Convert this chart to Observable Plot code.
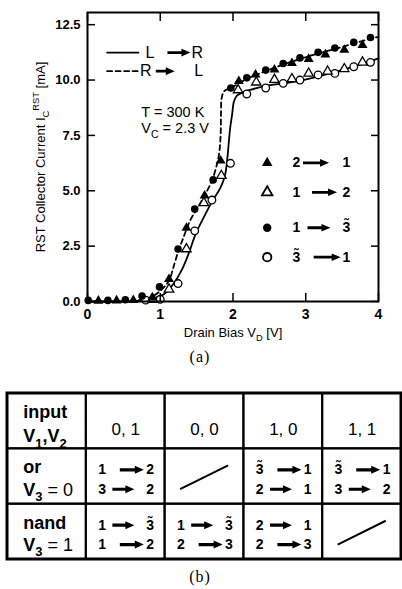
<!DOCTYPE html>
<html><head><meta charset="utf-8">
<script src="https://cdn.jsdelivr.net/npm/d3@7"></script>
<script src="https://cdn.jsdelivr.net/npm/@observablehq/plot@0.6"></script>
<style>
body{margin:0;background:#fff;width:402px;overflow:hidden;}
.cap{font-family:"Liberation Serif","Times New Roman",serif;font-size:16px;letter-spacing:1px;text-align:center;width:400px;color:#000;}
svg{display:block;}
</style></head><body>
<div id="chart"></div>
<div class="cap" style="height:30px;line-height:24px;">(a)</div>
<div id="table"></div>
<div class="cap" style="height:24px;line-height:24px;">(b)</div>
<script>
// ---------- (a) data ----------
const xTicks = [0, 1, 2, 3, 4];
const yTicks = [0, 2.5, 5, 7.5, 10, 12.5];
const xLabel = "Drain Bias V_{D} [V]";
const yLabel = "RST Collector Current I_{C}^{RST} [mA]";
const conditions = ["T = 300 K", "V_{C} = 2.3 V"];
const lineKeys = [["L", "R"], ["R", "L"]];               // solid, dashed
const markerKeys = [["2", "1"], ["1", "2"], ["1", "3\u0303"], ["3\u0303", "1"]];

// measured points: drain bias V_D [V], collector current I_C [mA]
const vdTri21 = [0.15, 0.40, 0.63, 0.89, 1.12, 1.36, 1.61, 1.83, 2.08, 2.31, 2.57, 2.81, 3.04, 3.27, 3.53, 3.78];
const icTri21 = [0.03, 0.04, 0.06, 0.18, 1.01, 3.32, 4.78, 6.36, 9.95, 10.24, 10.47, 10.76, 10.95, 11.15, 11.36, 11.58];
const vdTri12 = [0.90, 1.12, 1.36, 1.60, 1.84, 2.07, 2.32, 2.57, 2.81, 3.04, 3.30, 3.53, 3.78];
const icTri12 = [0.08, 0.55, 2.37, 4.45, 5.68, 9.55, 9.90, 10.02, 10.05, 10.30, 10.39, 10.50, 10.80];
const vdCirc13 = [0.01, 0.28, 0.52, 0.75, 0.99, 1.245, 1.474, 1.727, 1.97, 2.19, 2.45, 2.69, 2.92, 3.17, 3.40, 3.66, 3.89];
const icCirc13 = [0.05, 0.05, 0.08, 0.25, 0.66, 2.37, 4.18, 5.49, 9.64, 10.10, 10.45, 10.75, 11.00, 11.25, 11.45, 11.70, 11.92];
const vdCirc31 = [0.80, 1.00, 1.245, 1.474, 1.71, 1.965, 2.19, 2.45, 2.69, 2.92, 3.17, 3.40, 3.66, 3.89];
const icCirc31 = [0.06, 0.10, 0.81, 3.19, 4.58, 6.24, 9.37, 9.64, 9.85, 10.00, 10.23, 10.30, 10.60, 10.80];

// sweep curves
const vdLR = [0, 0.5, 0.8, 0.91, 1.05, 1.18, 1.3, 1.405, 1.48, 1.575, 1.71, 1.83, 1.89, 1.92, 1.94, 1.96, 1.99, 2.01, 2.05, 2.12, 2.2, 2.47, 2.93, 3.39, 3.7, 4.0];
const icLR = [0, 0.01, 0.05, 0.15, 0.33, 0.79, 1.45, 2.29, 3.0, 3.65, 4.5, 5.15, 5.7, 6.4, 7.1, 7.8, 8.5, 9.0, 9.28, 9.42, 9.52, 9.75, 9.97, 10.35, 10.65, 10.98];
const vdRL = [0, 0.6, 0.86, 1.0, 1.12, 1.18, 1.25, 1.32, 1.41, 1.53, 1.62, 1.71, 1.78, 1.81, 1.83, 1.835, 1.845, 1.88, 1.97, 2.19, 2.45, 2.69, 2.92, 3.17, 3.4, 3.66, 3.89, 4.0];
const icRL = [0, 0.02, 0.18, 0.48, 0.94, 1.54, 2.29, 2.9, 3.65, 4.32, 4.85, 5.45, 6.2, 6.7, 7.5, 8.5, 9.2, 9.5, 9.64, 10.05, 10.4, 10.7, 10.95, 11.2, 11.4, 11.65, 11.87, 11.95];

// ---------- (b) data ----------
const colHeads = ["0, 1", "0, 0", "1, 0", "1, 1"];
const rowHeads = [["input", "V_{1},V_{2}"], ["or", "V_{3}~{ = 0}"], ["nand", "V_{3}~{ = 1}"]];
const orCells = [[["1", "2", "R"], ["3", "2", "L"]], null, [["3\u0303", "1", "R"], ["2", "1", "L"]], [["3\u0303", "1", "R"], ["3", "2", "L"]]];
const nandCells = [[["1", "3\u0303", "L"], ["1", "2", "R"]], [["1", "3\u0303", "L"], ["2", "3", "R"]], [["2", "1", "L"], ["2", "3", "R"]], null];

// ---------- helpers ----------
const F = '"Liberation Sans", Arial, Helvetica, sans-serif';
const pts = (xs, ys) => xs.map((x, i) => ({x, y: ys[i]}));
const arrowSym = (len, hl = 9, hw = 3.9, sw = 1.4) => ({
  draw(c) { c.moveTo(0, 0); c.lineTo(-hl, -hw); c.lineTo(-hl, -sw); c.lineTo(-len, -sw);
            c.lineTo(-len, sw); c.lineTo(-hl, sw); c.lineTo(-hl, hw); c.closePath(); }
});
function richify(root) {
  root.querySelectorAll("text").forEach(t => {
    const s = t.textContent;
    if (!/[_^~]\{/.test(s)) return;
    const fs = parseFloat(getComputedStyle(t).fontSize) || 14;
    while (t.firstChild) t.removeChild(t.firstChild);
    const re = /([_^~])\{([^}]*)\}/g;
    let last = 0, shift = 0, m;
    const add = (txt, target, small, weight) => {
      const ts = document.createElementNS("http://www.w3.org/2000/svg", "tspan");
      ts.textContent = txt;
      const d = target - shift; if (d) ts.setAttribute("dy", d);
      shift = target;
      if (small) ts.setAttribute("font-size", fs * 0.72);
      if (weight) ts.setAttribute("font-weight", weight);
      t.appendChild(ts);
    };
    while ((m = re.exec(s))) {
      if (m.index > last) add(s.slice(last, m.index), 0);
      if (m[1] === "_") add(m[2], fs * 0.3, true);
      else if (m[1] === "^") add(m[2], -fs * 0.42, true);
      else add(m[2], 0, false, "normal");
      last = re.lastIndex;
    }
    if (last < s.length) add(s.slice(last), 0);
  });
}

// ---------- (a) chart ----------
const lineRows = [
  {y: 11.24, dash: null, fromX: 0.857, tip: 1.415, len: 23, toX: 1.51},
  {y: 10.40, dash: "5,3.5", fromX: 0.80, tip: 1.20, len: 19, toX: 1.53}
];
const markRows = [
  {y: 6.26, sym: "triangle", fill: "black", stroke: "none", tip: 3.32, len: 26},
  {y: 4.93, sym: "triangle", fill: "white", stroke: "black", tip: 3.43, len: 25},
  {y: 3.33, sym: "circle", fill: "black", stroke: "none", tip: 3.34, len: 23},
  {y: 2.00, sym: "circle", fill: "white", stroke: "black", tip: 3.48, len: 27}
];

const legendMarks = [];
lineRows.forEach((r, k) => {
  legendMarks.push(
    Plot.line([{x: 0.27, y: r.y}, {x: 0.70, y: r.y}], {x: "x", y: "y", stroke: "black", strokeWidth: 1.8, strokeDasharray: r.dash}),
    Plot.text([lineKeys[k][0]], {x: r.fromX, y: r.y, text: d => d, fontSize: 16}),
    Plot.dot([0], {x: r.tip, y: r.y, symbol: arrowSym(r.len), r: 5, fill: "black", stroke: "none"}),
    Plot.text([lineKeys[k][1]], {x: r.toX, y: r.y, text: d => d, fontSize: 16})
  );
});
markRows.forEach((r, k) => {
  legendMarks.push(
    Plot.dot([0], {x: 2.47, y: r.y, symbol: r.sym, r: r.sym === "circle" ? 4.2 : 3.9, fill: r.fill, stroke: r.stroke, strokeWidth: 1.8}),
    Plot.text([markerKeys[k][0]], {x: 2.87, y: r.y, text: d => d, fontSize: 14, fontWeight: "bold"}),
    Plot.dot([0], {x: r.tip, y: r.y, symbol: arrowSym(r.len, 9, 3.8, 1.4), r: 5, fill: "black", stroke: "none"}),
    Plot.text([markerKeys[k][1]], {x: 3.56, y: r.y, text: d => d, fontSize: 14, fontWeight: "bold"})
  );
});

const chart = Plot.plot({
  width: 402, height: 345,
  marginLeft: 87, marginRight: 24, marginTop: 12, marginBottom: 44,
  style: {fontFamily: F, background: "white", color: "black", overflow: "visible"},
  x: {domain: [0, 4]},
  y: {domain: [0, 13.05]},
  marks: [
    Plot.line(pts(vdLR, icLR), {x: "x", y: "y", stroke: "black", strokeWidth: 1.8, curve: "catmull-rom"}),
    Plot.line(pts(vdRL, icRL), {x: "x", y: "y", stroke: "black", strokeWidth: 1.8, strokeDasharray: "5,3.5", curve: "catmull-rom"}),
    Plot.dot(pts(vdCirc31, icCirc31), {x: "x", y: "y", r: 3.8, fill: "white", stroke: "black", strokeWidth: 1.3}),
    Plot.dot(pts(vdTri12, icTri12), {x: "x", y: "y", symbol: "triangle", r: 3.5, fill: "white", stroke: "black", strokeWidth: 1.3}),
    Plot.dot(pts(vdCirc13, icCirc13), {x: "x", y: "y", r: 3.8, fill: "black", stroke: "none"}),
    Plot.dot(pts(vdTri21, icTri21), {x: "x", y: "y", symbol: "triangle", r: 3.7, fill: "black", stroke: "none"}),
    Plot.frame({stroke: "black", strokeWidth: 2}),
    Plot.axisY({anchor: "left", ticks: yTicks, tickFormat: d3.format(".1f"), tickSize: -8, tickPadding: 15, strokeWidth: 1.5, fontSize: 13, fontWeight: "bold", label: null}),
    Plot.axisY({anchor: "right", ticks: yTicks, tickFormat: () => "", tickSize: -8, strokeWidth: 1.5, label: null}),
    Plot.axisX({anchor: "bottom", ticks: xTicks, tickFormat: d3.format("d"), tickSize: -8, tickPadding: 16, strokeWidth: 1.5, fontSize: 14, fontWeight: "bold", label: null}),
    Plot.axisX({anchor: "top", ticks: xTicks, tickFormat: () => "", tickSize: -8, strokeWidth: 1.5, label: null}),
    Plot.text([yLabel], {frameAnchor: "left", dx: -47, rotate: -90, text: d => d, fontSize: 13, textAnchor: "middle", lineAnchor: "middle"}),
    Plot.text([xLabel], {frameAnchor: "bottom", dy: 31, text: d => d, fontSize: 13, textAnchor: "middle", lineAnchor: "middle"}),
    Plot.text(conditions, {x: 0.74, y: (d, i) => [8.53, 7.81][i], text: d => d, fontSize: 14.5, textAnchor: "start"}),
    ...legendMarks
  ]
});
document.getElementById("chart").append(chart);
richify(chart);

// ---------- (b) table ----------
const cells = [];
for (let r = 0; r < 3; r++) for (let c = 0; c < 5; c++) cells.push({r, c});
const trans = [], diags = [];
[orCells, nandCells].forEach((row, ri) => row.forEach((cell, ci) => {
  if (!cell) { diags.push({r: ri + 1, c: ci + 1}); return; }
  cell.forEach((t, k) => trans.push({r: ri + 1, c: ci + 1, k, from: t[0], to: t[1], style: t[2]}));
}));
const heads = [];
rowHeads.forEach((h, r) => h.forEach((s, k) => heads.push({r, k, s})));
const colHeadRows = colHeads.map((s, i) => ({c: i + 1, s}));

const lineY = d => d.r + (d.k ? 0.73 : 0.38);
const arrowMarks = trans.map(t =>
  Plot.dot([t], {x: d => d.c + (d.style === "L" ? 0.61 : 0.73), y: lineY, symbol: arrowSym(t.style === "L" ? 22 : 24, 9, 4, 1.6), r: 5, fill: "black", stroke: "none"})
);

const table = Plot.plot({
  width: 402, height: 190,
  marginTop: 0, marginRight: 0, marginBottom: 0, marginLeft: 0,
  style: {fontFamily: F, background: "white", color: "black", overflow: "visible"},
  x: {type: "linear", domain: [0, 5], range: [7, 401], axis: null},
  y: {type: "linear", domain: [0, 3], range: [18, 184], axis: null},
  marks: [
    Plot.rect(cells, {x1: d => d.c, x2: d => d.c + 1, y1: d => d.r, y2: d => d.r + 1, fill: "none", stroke: "black", strokeWidth: 2}),
    Plot.rect([{c: 0}], {x1: d => 0, x2: d => 5, y1: d => 0, y2: d => 3, fill: "none", stroke: "black", strokeWidth: 3}),
    Plot.text(colHeadRows, {x: d => d.c + 0.5, y: d => 0.66, text: "s", fontSize: 17, textAnchor: "middle", lineAnchor: "middle"}),
    Plot.text(heads, {x: d => 0.2, y: d => d.r + (d.r === 0 ? (d.k ? 0.78 : 0.34) : (d.k ? 0.74 : 0.34)), text: "s", fontSize: 18, fontWeight: "bold", textAnchor: "start", lineAnchor: "middle"}),
    Plot.text(trans, {x: d => d.c + 0.2, y: lineY, text: "from", fontSize: 14, fontWeight: "bold", textAnchor: "middle", lineAnchor: "middle"}),
    Plot.text(trans, {x: d => d.c + 0.81, y: lineY, text: "to", fontSize: 14, fontWeight: "bold", textAnchor: "middle", lineAnchor: "middle"}),
    ...arrowMarks,
    Plot.link(diags, {x1: d => d.c + 0.19, y1: d => d.r + 0.73, x2: d => d.c + 0.8, y2: d => d.r + 0.3, stroke: "black", strokeWidth: 2})
  ]
});
document.getElementById("table").append(table);
richify(table);
</script>
</body></html>
